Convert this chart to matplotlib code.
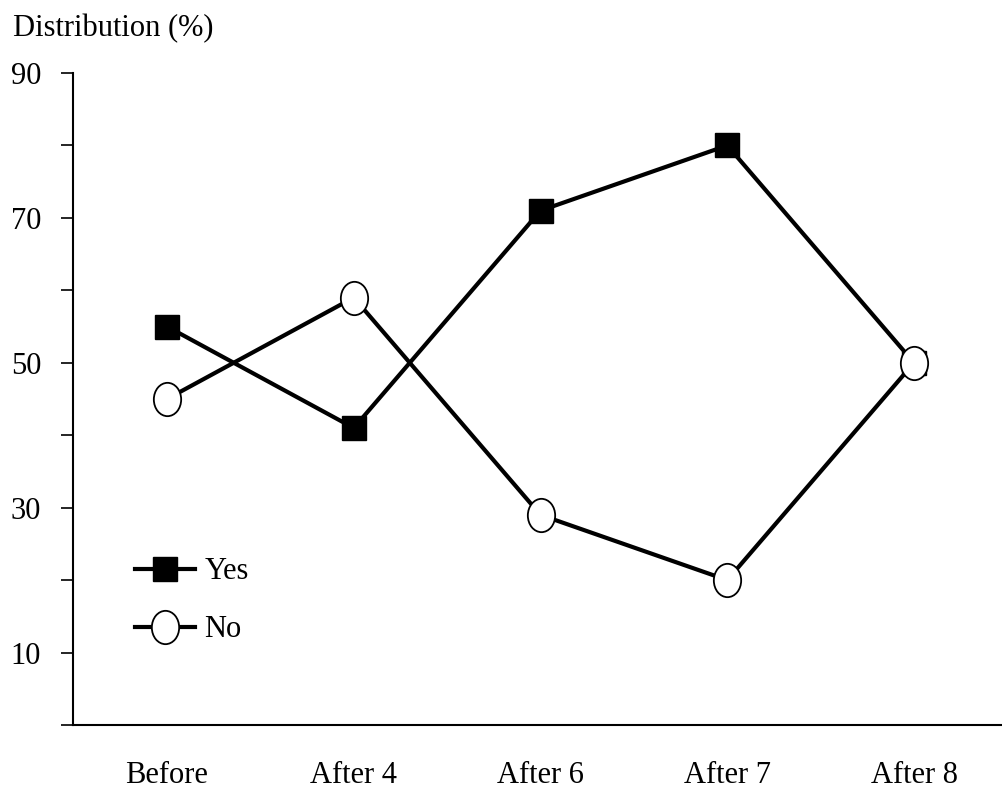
import numpy as np
import matplotlib.pyplot as plt
from matplotlib.path import Path
from matplotlib.transforms import Affine2D

plt.rcParams["font.family"] = ["Liberation Serif", "DejaVu Serif"]

# Data
stages = ["Before", "After 4", "After 6", "After 7", "After 8"]
yes_pct = [55, 41, 71, 80, 50]
no_pct = [45, 59, 29, 20, 50]

# slightly tall open ellipse, as in the original
ellipse = Path.unit_circle().transformed(Affine2D().scale(0.82, 1.0))

fig = plt.figure(figsize=(10.02, 7.9), dpi=100)
ax = fig.add_axes([0.0729, 0.0823, 0.9271, 0.8253])

x = np.arange(len(stages))
ax.plot(x, yes_pct, color="black", lw=3, marker="s", ms=17,
        mfc="black", mec="black", label="Yes", zorder=3)
ax.plot(x, no_pct, color="black", lw=3, marker=ellipse, ms=24,
        mfc="white", mec="black", mew=1.3, label="No", zorder=4)

ax.set_xlim(-0.503, 4.471)
ax.set_ylim(0, 90)
ax.set_yticks(np.arange(0, 91, 10))
ax.set_yticklabels(["" if v % 20 == 0 else str(v) for v in range(0, 91, 10)])
ax.set_xticks(x)
ax.set_xticklabels(stages)

for s in ["top", "right"]:
    ax.spines[s].set_visible(False)
for s in ["left", "bottom"]:
    ax.spines[s].set_linewidth(1.5)
ax.tick_params(axis="y", length=9, width=1.2, labelsize=22, pad=14)
ax.tick_params(axis="x", length=0, labelsize=22, pad=26)

fig.text(0.013, 0.964, "Distribution (%)", fontsize=22, ha="left", va="center")

ax.legend(loc="upper left", bbox_to_anchor=(0.054, 0.276), frameon=False,
          fontsize=22, handlelength=1.95, handletextpad=0.3, labelspacing=0.95,
          borderaxespad=0)

fig.savefig("out.png", dpi=100)
